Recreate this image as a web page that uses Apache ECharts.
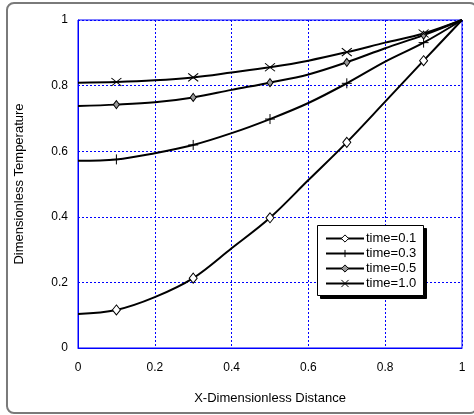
<!DOCTYPE html>
<html>
<head>
<meta charset="utf-8">
<script src="https://cdn.jsdelivr.net/npm/echarts@6/dist/echarts.min.js"></script>
<style>
  html, body { margin: 0; padding: 0; background: #fff; }
  #chart { width: 474px; height: 415px; }
</style>
</head>
<body>
<div id="chart"></div>
<script>
// Position along the slab
const xDistance = [0, 0.1, 0.2, 0.3, 0.4, 0.5, 0.6, 0.7, 0.8, 0.9, 1.0];

// Temperature profiles at each time
const temp_t01 = [0.104, 0.116, 0.155, 0.213, 0.304, 0.397, 0.512, 0.627, 0.751, 0.876, 1.0];
const temp_t03 = [0.571, 0.575, 0.594, 0.619, 0.655, 0.698, 0.747, 0.807, 0.873, 0.931, 1.0];
const temp_t05 = [0.738, 0.742, 0.749, 0.764, 0.787, 0.809, 0.834, 0.871, 0.914, 0.954, 1.0];
const temp_t10 = [0.809, 0.811, 0.816, 0.825, 0.840, 0.856, 0.876, 0.902, 0.931, 0.959, 1.0];

const seriesNames = ['time=0.1', 'time=0.3', 'time=0.5', 'time=1.0'];
const axisTicks = [0, 0.2, 0.4, 0.6, 0.8, 1];

// markers only on the odd stations (0.1, 0.3, ...)
function pts(vals) {
  return xDistance.map((x, i) => {
    const item = { value: [x, vals[i]] };
    if (i % 2 === 0) item.symbol = 'none';
    return item;
  });
}

const FONT = "'Liberation Sans', Arial, sans-serif";
const BLUE = '#0000ff';

const SYM_DIAMOND = 'diamond';
const SYM_PLUS = 'path://M5,0L5,10M0,5L10,5';
const SYM_CROSS = 'path://M0,0L10,8M0,8L10,0';

function lineSeries(name, vals, symbol, size, fill) {
  return {
    name: name,
    type: 'line',
    smooth: 0.35,
    data: pts(vals),
    symbol: symbol,
    symbolSize: size,
    showAllSymbol: true,
    lineStyle: { color: '#000', width: 2 },
    itemStyle: { color: fill, borderColor: '#000', borderWidth: 1 },
    emphasis: { disabled: true },
    z: 3
  };
}

const chart = echarts.init(document.getElementById('chart'), null, { renderer: 'canvas' });
chart.setOption({
  animation: false,
  backgroundColor: '#fff',
  textStyle: { fontFamily: FONT, color: '#000' },
  grid: {
    left: 78, top: 20, right: 12, bottom: 67,
    show: true, borderColor: BLUE, borderWidth: 1
  },
  graphic: [
    {
      // outer rounded frame
      type: 'rect',
      shape: { x: 7, y: 3, width: 470, height: 410, r: 7 },
      style: { fill: 'none', stroke: '#7a7a7a', lineWidth: 2 },
      silent: true, z: -1
    },
    {
      // legend drop shadow
      type: 'rect',
      shape: { x: 320.5, y: 228.5, width: 106, height: 70 },
      style: { fill: '#000', stroke: '#000', lineWidth: 1 },
      silent: true, z: 10
    },
    {
      // legend box
      type: 'rect',
      shape: { x: 317.5, y: 225.5, width: 106, height: 70 },
      style: { fill: '#fff', stroke: '#000', lineWidth: 1 },
      silent: true, z: 11
    }
  ],
  xAxis: {
    type: 'value', min: 0, max: 1, interval: 0.2,
    name: 'X-Dimensionless Distance',
    nameLocation: 'middle', nameGap: 44,
    nameTextStyle: { fontSize: 13, fontFamily: FONT, color: '#000' },
    axisLine: { show: true, lineStyle: { color: BLUE, width: 1 } },
    axisTick: { show: false },
    axisLabel: {
      fontSize: 12, fontFamily: FONT, color: '#000', margin: 14,
      formatter: v => axisTicks.includes(+v.toFixed(1)) ? String(+v.toFixed(1)) : ''
    },
    splitLine: { show: true, lineStyle: { color: BLUE, type: [2, 2], width: 1 } }
  },
  yAxis: {
    type: 'value', min: 0, max: 1, interval: 0.2,
    name: 'Dimensionless Temperature',
    nameLocation: 'middle', nameGap: 52,
    nameTextStyle: { fontSize: 13, fontFamily: FONT, color: '#000' },
    axisLine: { show: true, lineStyle: { color: BLUE, width: 1 } },
    axisTick: { show: false },
    axisLabel: {
      fontSize: 12, fontFamily: FONT, color: '#000', margin: 10,
      formatter: v => String(+v.toFixed(1))
    },
    splitLine: { show: true, lineStyle: { color: BLUE, type: [2, 2], width: 1 } }
  },
  legend: {
    data: [
      { name: seriesNames[0], itemStyle: { color: '#fff', borderColor: '#000', borderWidth: 1 } },
      { name: seriesNames[1], itemStyle: { color: '#000', borderColor: '#000', borderWidth: 1 } },
      { name: seriesNames[2], itemStyle: { color: '#999', borderColor: '#000', borderWidth: 1 } },
      { name: seriesNames[3], itemStyle: { color: '#000', borderColor: '#000', borderWidth: 1 } }
    ],
    orient: 'vertical',
    left: 325, top: 231,
    padding: 0,
    itemWidth: 38, itemHeight: 9, itemGap: 0,
    textStyle: { fontSize: 13, fontFamily: FONT, color: '#000', lineHeight: 15, padding: [0, 0, 0, -3] },
    selectedMode: false,
    z: 12
  },
  series: [
    lineSeries(seriesNames[0], temp_t01, SYM_DIAMOND, [8, 10], '#fff'),
    lineSeries(seriesNames[1], temp_t03, SYM_PLUS, [10, 10], '#000'),
    lineSeries(seriesNames[2], temp_t05, SYM_DIAMOND, [6, 8], '#999'),
    lineSeries(seriesNames[3], temp_t10, SYM_CROSS, [10, 8], '#000')
  ]
});
</script>
</body>
</html>
